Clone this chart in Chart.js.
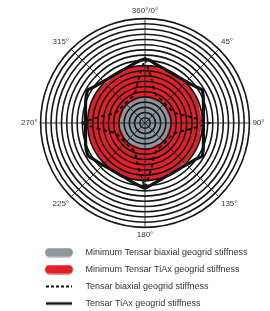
<!DOCTYPE html>
<html><head><meta charset="utf-8">
<script src="https://cdn.jsdelivr.net/npm/chart.js@4/dist/chart.umd.min.js"></script>
<style>html,body{margin:0;padding:0;background:#fff;}#wrap{width:270px;height:311px;position:relative;}</style>
</head><body><div id="wrap"><canvas id="c"></canvas></div>
<script>
// Direction (degrees, clockwise from top)
const angles = [0,5,10,15,20,25,30,35,40,45,50,55,60,65,70,75,80,85,
  90,95,100,105,110,115,120,125,130,135,140,145,150,155,160,165,170,175,
  180,185,190,195,200,205,210,215,220,225,230,235,240,245,250,255,260,265,
  270,275,280,285,290,295,300,305,310,315,320,325,330,335,340,345,350,355];
const angleLabels = ['360°/0°','45°','90°','135°','180°','225°','270°','315°'];
const seriesNames = ['Minimum Tensar biaxial geogrid stiffness','Minimum Tensar TiAx geogrid stiffness','Tensar biaxial geogrid stiffness','Tensar TiAx geogrid stiffness'];

// Values in ring units (20 rings)
const minBiaxial = [5.0,4.9,4.8,4.7,4.7,4.7,4.8,4.8,4.8,4.8,4.8,4.8,4.7,4.7,4.7,4.8,4.9,4.9,
  5.0,4.9,4.8,4.7,4.7,4.7,4.8,4.8,4.8,4.8,4.8,4.8,4.7,4.7,4.7,4.8,4.9,4.9,
  5.0,4.9,4.8,4.7,4.7,4.7,4.8,4.8,4.8,4.8,4.8,4.8,4.7,4.7,4.7,4.8,4.9,4.9,
  5.0,4.9,4.8,4.7,4.7,4.7,4.8,4.8,4.8,4.8,4.8,4.8,4.7,4.7,4.7,4.8,4.9,4.9];
const minTriAx = [11.0,11.0,10.9,10.8,10.7,10.6,10.6,10.6,10.7,10.9,11.0,11.0,
  11.0,11.0,10.9,10.8,10.8,10.8,10.8,10.8,10.8,10.9,11.0,11.0,
  11.0,11.0,10.9,10.8,10.7,10.7,10.7,10.7,10.8,10.9,11.1,11.2,
  11.3,11.2,11.1,11.0,10.9,10.8,10.8,10.8,10.9,11.0,11.1,11.1,
  11.1,11.1,11.1,11.0,11.0,11.0,11.0,11.0,11.0,11.0,11.1,11.1,
  11.1,11.0,10.9,10.8,10.7,10.7,10.7,10.7,10.8,10.9,11.0,11.0];
const biaxial = [12.3,9.8,8.0,6.6,5.9,5.6,5.5,5.4,5.35,5.3,5.35,5.4,5.5,5.6,5.9,6.6,8.0,9.8,
  12.3,9.8,8.0,6.6,5.9,5.6,5.5,5.4,5.35,5.3,5.35,5.4,5.5,5.6,5.9,6.6,8.1,9.9,
  12.4,9.9,8.1,6.6,5.9,5.6,5.5,5.4,5.35,5.3,5.35,5.4,5.5,5.6,5.9,6.6,8.0,9.8,
  12.3,9.8,8.0,6.6,5.9,5.6,5.5,5.4,5.35,5.3,5.35,5.4,5.5,5.6,5.9,6.6,8.0,9.8];
const triAx = [12.3,12.0,11.5,11.2,11.0,10.85,10.8,10.85,11.0,11.2,11.5,12.05,
  12.7,12.3,11.9,11.6,11.35,11.25,11.2,11.25,11.35,11.6,11.9,12.3,
  12.7,12.0,11.6,11.3,11.05,10.95,10.9,10.95,11.05,11.3,11.6,12.0,
  12.5,12.1,11.7,11.4,11.15,11.05,11.0,11.05,11.15,11.4,11.7,12.1,
  12.6,12.4,12.1,11.8,11.55,11.45,11.4,11.45,11.55,11.8,12.1,12.4,
  12.7,12.0,11.6,11.3,11.05,10.95,10.9,10.95,11.05,11.3,11.6,11.95];

const GRAY = '#8d989e', RED = '#e3202a', BLACK = '#111111';

function swatch(kind, color) {
  const c = document.createElement('canvas');
  c.width = 56; c.height = 10;
  const g = c.getContext('2d');
  if (kind === 'pill') {
    const x = 20, y = 0.5, w = 28, h = 9, r = 4.5;
    g.fillStyle = color; g.beginPath();
    g.moveTo(x + r, y); g.lineTo(x + w - r, y);
    g.arc(x + w - r, y + r, r, -Math.PI / 2, Math.PI / 2);
    g.lineTo(x + r, y + h);
    g.arc(x + r, y + r, r, Math.PI / 2, Math.PI * 1.5);
    g.closePath(); g.fill();
  } else {
    g.strokeStyle = color;
    g.lineWidth = kind === 'dash' ? 2 : 2.6;
    if (kind === 'dash') g.setLineDash([3, 2]);
    g.beginPath(); g.moveTo(21, 5); g.lineTo(47, 5); g.stroke();
  }
  return c;
}
const swatches = [swatch('pill', GRAY), swatch('pill', RED), swatch('dash', BLACK), swatch('line', BLACK)];

new Chart(document.getElementById('c'), {
  type: 'radar',
  data: {
    labels: angles,
    datasets: [
      { label: seriesNames[0], data: minBiaxial, backgroundColor: GRAY, borderColor: GRAY, borderWidth: 0, fill: true, order: 2 },
      { label: seriesNames[1], data: minTriAx, backgroundColor: RED, borderColor: RED, borderWidth: 0, fill: true, order: 3 },
      { label: seriesNames[2], data: biaxial, backgroundColor: 'rgba(0,0,0,0)', borderColor: BLACK, borderWidth: 2, borderDash: [4, 3], fill: false, order: 1 },
      { label: seriesNames[3], data: triAx, backgroundColor: 'rgba(0,0,0,0)', borderColor: BLACK, borderWidth: 3.2, borderJoinStyle: 'round', fill: false, order: 0 }
    ]
  },
  options: {
    responsive: true,
    maintainAspectRatio: false,
    animation: false,
    layout: { padding: { left: 17, right: 0, top: 6, bottom: 0 } },
    elements: { point: { radius: 0, hoverRadius: 0 }, line: { tension: 0 } },
    scales: {
      r: {
        min: 0, max: 20,
        ticks: { display: false, stepSize: 1, z: 1 },
        grid: { circular: true, color: '#151515', lineWidth: 1.6, z: 1 },
        angleLines: { color: '#222', lineWidth: (ctx) => (ctx.index % 9 === 0 ? 0.9 : 0) },
        pointLabels: {
          callback: (v, i) => (i % 9 === 0 ? angleLabels[i / 9] : ''),
          color: '#333',
          padding: 3,
          font: { family: 'Liberation Sans', size: 8 }
        }
      }
    },
    plugins: {
      tooltip: { enabled: false },
      legend: {
        position: 'bottom',
        align: 'start',
        maxHeight: 71,
        labels: {
          usePointStyle: true,
          pointStyleWidth: 56,
          padding: 8,
          color: '#333',
          font: { family: 'Liberation Sans', size: 9 },
          generateLabels: (chart) => {
            const items = Chart.defaults.plugins.legend.labels.generateLabels(chart);
            items.forEach(it => { it.pointStyle = swatches[it.datasetIndex]; });
            return items;
          },
          sort: (a, b) => a.datasetIndex - b.datasetIndex
        }
      }
    }
  }
});
</script></body></html>
